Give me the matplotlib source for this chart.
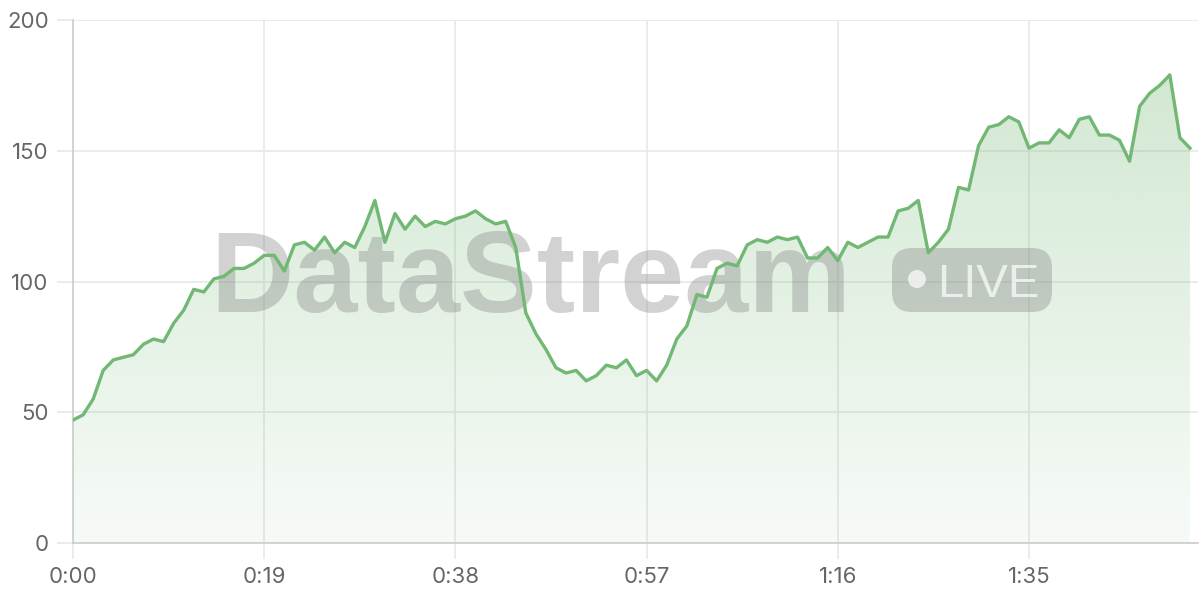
import numpy as np
import matplotlib
matplotlib.use('Agg')
import matplotlib.pyplot as plt
from matplotlib.patches import FancyBboxPatch, Circle
from matplotlib.transforms import IdentityTransform
from matplotlib.ticker import FuncFormatter

# 每秒一个采样点，共 112 秒
seconds = list(range(112))
values = [
    47, 49, 55, 66, 70, 71, 72, 76, 78, 77, 84, 89, 97, 96, 101, 102, 105, 105, 107, 110,
    110, 104, 114, 115, 112, 117, 111, 115, 113, 121, 131, 115, 126, 120, 125, 121, 123, 122, 124, 125,
    127, 124, 122, 123, 113, 88, 80, 74, 67, 65, 66, 62, 64, 68, 67, 70, 64, 66, 62, 68,
    78, 83, 95, 94, 105, 107, 106, 114, 116, 115, 117, 116, 117, 109, 109, 113, 108, 115, 113, 115,
    117, 117, 127, 128, 131, 111, 115, 120, 136, 135, 152, 159, 160, 163, 161, 151, 153, 153, 158, 155,
    162, 163, 156, 156, 154, 146, 167, 172, 175, 179, 155, 151,
]
x_ticks = [0, 19, 38, 57, 76, 95]
y_ticks = [0, 50, 100, 150, 200]

green = '#72b874'
grid_color = '#e8e8e8'
label_color = '#666666'

plt.rcParams['font.family'] = ['Inter', 'DejaVu Sans']

fig = plt.figure(figsize=(12, 6), dpi=100)
ax = fig.add_axes([73 / 1200, 57 / 600, 1125 / 1200, 523 / 600])

t = np.array(seconds)
v = np.array(values)

# 渐变填充
poly = ax.fill_between(t, v, 0, facecolor='none', edgecolor='none')
grad = np.zeros((256, 1, 4))
grad[:, 0, :3] = matplotlib.colors.to_rgb(green)
grad[:, 0, 3] = np.linspace(0.06, 0.32, 256)
img = ax.imshow(grad, extent=[0, t.max(), 0, v.max()], aspect='auto',
                origin='lower', zorder=1, interpolation='bilinear')
img.set_clip_path(poly.get_paths()[0], transform=ax.transData)

ax.plot(t, v, color=green, lw=2.4, zorder=3, solid_joinstyle='round')

# 水印
wm_color = (0.5, 0.5, 0.5, 0.35)
ax.text(210, 600 - 312, 'DataStream', transform=IdentityTransform(),
        fontsize=83, fontweight='bold', color=wm_color, ha='left', va='baseline',
        family=['Liberation Sans'], zorder=2)
badge = FancyBboxPatch((892 + 20, 600 - 312 + 20), 160 - 40, 64 - 40,
                       boxstyle='round,pad=20', transform=IdentityTransform(),
                       facecolor=wm_color, edgecolor='none', zorder=2)
ax.add_artist(badge)
dot = Circle((917, 600 - 279), 9, transform=IdentityTransform(),
             facecolor=(1, 1, 1, 0.7), edgecolor='none', zorder=2)
ax.add_artist(dot)
ax.text(937, 600 - 297, 'LIVE', transform=IdentityTransform(),
        fontsize=34, color=(1, 1, 1, 0.7), ha='left', va='baseline',
        family=['Liberation Sans'], zorder=2)

ax.set_xlim(0, 111.8)
ax.set_ylim(0, 200)
ax.set_xticks(x_ticks)
ax.set_yticks(y_ticks)
ax.xaxis.set_major_formatter(FuncFormatter(lambda s, p: '%d:%02d' % (int(s) // 60, int(s) % 60)))

ax.grid(True, color=grid_color, lw=1.2, zorder=0)
ax.set_axisbelow(True)
ax.tick_params(length=11.5, width=1.2, color=grid_color, labelsize=16,
               labelcolor=label_color, pad=6)
for side in ['top', 'right']:
    ax.spines[side].set_visible(False)
for side in ['left', 'bottom']:
    ax.spines[side].set_color('#cccccc')
    ax.spines[side].set_linewidth(1.2)

fig.savefig('out.png', dpi=100)
